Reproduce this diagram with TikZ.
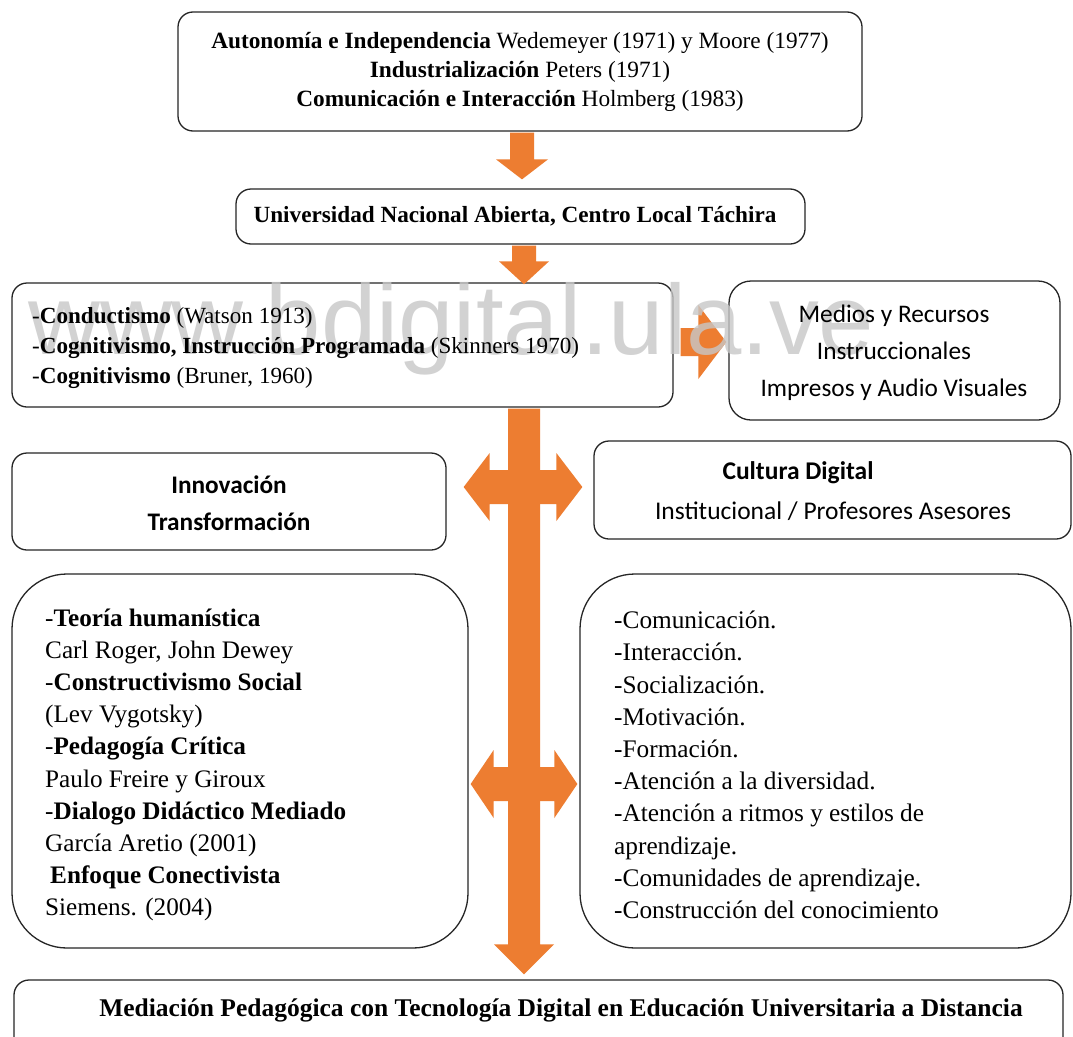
\documentclass[tikz,border=0pt]{standalone}
\usepackage{fontspec}
\setmainfont{Liberation Serif}
\newfontfamily\calib{Carlito}
\newfontfamily\wmfont{Liberation Sans}
\usetikzlibrary{calc}
\definecolor{arrorange}{HTML}{ED7D31}
\newcommand\myDownArrow[5]{% start, end, shaft half, head half, head length
  \fill[blockarrow] let \p1=(#1), \p2=(#2) in
  (\x1-#3,\y1) -- (\x1+#3,\y1) -- (\x1+#3,\y2+#5) -- (\x1+#4,\y2+#5) -- (\x1,\y2)
  -- (\x1-#4,\y2+#5) -- (\x1-#3,\y2+#5) -- cycle;}
\newcommand\myRightArrow[5]{% start, tip, shaft half, head half, head length
  \fill[blockarrow] let \p1=(#1), \p2=(#2) in
  (\x1,\y1+#3) -- (\x2-#5,\y1+#3) -- (\x2-#5,\y1+#4) -- (\x2,\y1)
  -- (\x2-#5,\y1-#4) -- (\x2-#5,\y1-#3) -- (\x1,\y1-#3) -- cycle;}
\newcommand\myDoubleArrow[5]{% left tip, right tip, shaft half, head half, head length
  \fill[blockarrow] let \p1=(#1), \p2=(#2) in
  (\x1,\y1) -- (\x1+#5,\y1+#4) -- (\x1+#5,\y1+#3) -- (\x2-#5,\y1+#3) -- (\x2-#5,\y1+#4)
  -- (\x2,\y1) -- (\x2-#5,\y1-#4) -- (\x2-#5,\y1-#3) -- (\x1+#5,\y1-#3) -- (\x1+#5,\y1-#4) -- cycle;}
\begin{document}
\begin{tikzpicture}[x=1pt,y=-1pt,
  box/.style={draw=black!85, line width=1.3pt, rounded corners=15pt, fill=white, inner sep=0pt},
  bigbox/.style={box, rounded corners=55pt},
  blockarrow/.style={fill=arrorange, draw=none},
  txt/.style={inner sep=0pt}]
\useasboundingbox (0,0) rectangle (1073,1036);
\clip (0,0) rectangle (1073,1036);
\fill[white] (0,0) rectangle (1073,1036);

% boxes
\node[box, minimum width=684pt, minimum height=119pt] (top) at (520,71.5) {};
\node[box, minimum width=569pt, minimum height=55pt] (una) at (520.5,216.5) {};
\node[box, minimum width=661pt, minimum height=124pt] (cond) at (342.5,345) {};
\node[box, minimum width=331pt, minimum height=139pt, rounded corners=22pt] (medios) at (894.5,350.5) {};
\node[box, minimum width=434pt, minimum height=97pt] (innov) at (229,501.5) {};
\node[box, minimum width=477pt, minimum height=98pt] (cultura) at (832.5,490) {};
\node[bigbox, minimum width=456pt, minimum height=374pt] (lbig) at (240,761) {};
\node[bigbox, minimum width=491pt, minimum height=374pt] (rbig) at (825.5,761) {};
\node[box, minimum width=1049pt, minimum height=80pt] (bottom) at (538.5,1020) {};

% arrows
\coordinate (a1s) at ($(top.south)+(2,1)$);
\coordinate (a1e) at ($(una.north)+(1.5,-9)$);
\myDownArrow{a1s}{a1e}{12}{26}{20}
\coordinate (a2s) at ($(una.south)+(3.5,1)$);
\coordinate (a2e) at ($(cond.north)+(181.5,2)$);
\myDownArrow{a2s}{a2e}{12}{25}{23}
\coordinate (a3s) at ($(cond.east)+(7,-3)$);
\coordinate (a3e) at ($(medios.west)+(-2,-8.5)$);
\myRightArrow{a3s}{a3e}{14}{37}{28}
\coordinate (a4s) at ($(cond.south)+(181.5,1)$);
\coordinate (a4e) at ($(bottom.north)+(-14.5,-5)$);
\myDownArrow{a4s}{a4e}{16}{30}{30}
\coordinate (d1l) at ($(innov.east)+(17,-14.5)$);
\coordinate (d1r) at ($(cultura.west)+(-11,-3)$);
\myDoubleArrow{d1l}{d1r}{17}{34}{26}
\coordinate (d2l) at ($(lbig.east)+(2,23)$);
\coordinate (d2r) at ($(rbig.west)+(-2,23)$);
\myDoubleArrow{d2l}{d2r}{17}{34}{23}

% watermark
\node[inner sep=0pt, anchor=base west, font=\wmfont\fontsize{99.5}{99.5}\selectfont, text=black!22, opacity=0.8] (wm) at (28,354) {www.bdigital.ula.ve};

% texts
\node[txt, align=center, font=\fontsize{23.3}{29}\selectfont] (toptxt) at (520,72) {%
  \textbf{Autonomía e Independencia} Wedemeyer (1971) y Moore (1977)\\
  \textbf{Industrialización} Peters (1971)\\
  \textbf{Comunicación e Interacción} Holmberg (1983)};
\node[txt, font=\bfseries\fontsize{23.2}{23}\selectfont] (unatxt) at (515,216) {Universidad Nacional Abierta, Centro Local Táchira};
\node[txt, align=left, anchor=west, font=\fontsize{23.1}{30}\selectfont] (condtxt) at (32,348) {%
  -\textbf{Conductismo} (Watson 1913)\\
  -\textbf{Cognitivismo, Instrucción Programada} (Skinners 1970)\\
  -\textbf{Cognitivismo} (Bruner, 1960)};
\node[txt, align=center, font=\calib\fontsize{25.3}{37}\selectfont] (mediostxt) at (894,353) {%
  Medios y Recursos\\ Instruccionales\\ Impresos y Audio Visuales};
\node[txt, align=center, font=\calib\bfseries\fontsize{25.3}{37}\selectfont] (innovtxt) at (229,503) {%
  Innovación\\ Transformación};
\node[txt, font=\calib\bfseries\fontsize{25.5}{25}\selectfont] (culttxt1) at (798,473) {Cultura Digital};
\node[txt, font=\calib\fontsize{25.5}{25}\selectfont] (culttxt2) at (833,511) {Institucional / Profesores Asesores};
\node[txt, align=left, anchor=west, font=\fontsize{25.2}{32.2}\selectfont] (lbigtxt) at (45,765) {%
  -\textbf{Teoría humanística}\\
  Carl Roger, John Dewey\\
  -\textbf{Constructivismo Social}\\
  (Lev Vygotsky)\\
  -\textbf{Pedagogía Crítica}\\
  Paulo Freire y Giroux\\
  -\textbf{Dialogo Didáctico Mediado}\\
  García Aretio (2001)\\
  \hspace*{5pt}\textbf{Enfoque Conectivista}\\
  Siemens. (2004)};
\node[txt, align=left, anchor=west, font=\fontsize{25.3}{32.2}\selectfont] (rbigtxt) at (614,765) {%
  -Comunicación.\\
  -Interacción.\\
  -Socialización.\\
  -Motivación.\\
  -Formación.\\
  -Atención a la diversidad.\\
  -Atención a ritmos y estilos de\\
  aprendizaje.\\
  -Comunidades de aprendizaje.\\
  -Construcción del conocimiento};
\node[txt, font=\bfseries\fontsize{25.5}{25}\selectfont] (bottomtxt) at (561,1010) {Mediación Pedagógica con Tecnología Digital en Educación Universitaria a Distancia};
\end{tikzpicture}
\end{document}
